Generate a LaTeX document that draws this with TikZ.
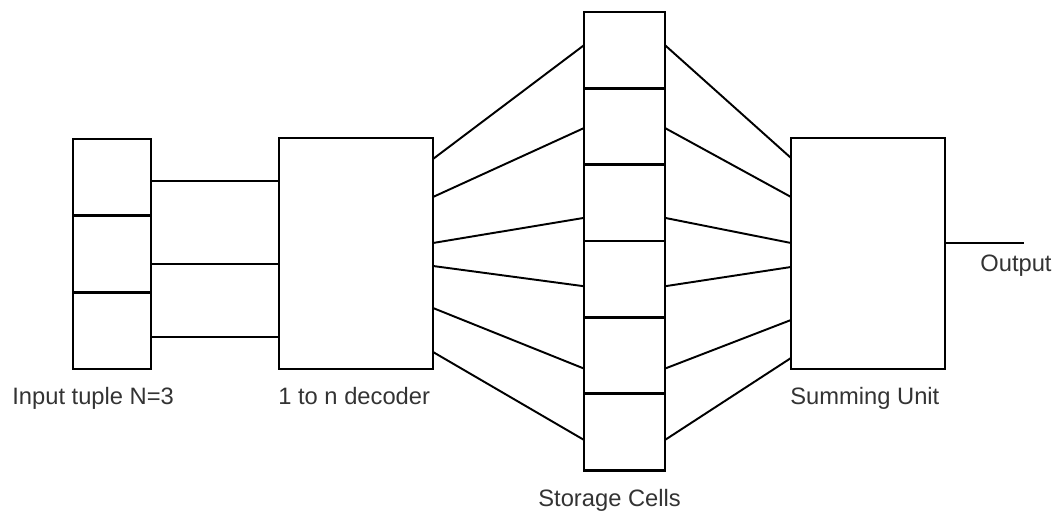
\documentclass[tikz,border=0pt]{standalone}
\usepackage{fontspec}
\setmainfont{Liberation Sans}
\usetikzlibrary{positioning}

\begin{document}
\begin{tikzpicture}[
    every node/.style={font=\fontsize{13.5}{16}\selectfont, text=black!80},
    unitbox/.style={draw, line width=1.6pt, inner sep=0pt, outer sep=0pt},
    tuplecell/.style={unitbox, minimum width=1.56cm, minimum height=1.533cm},
    storecell/.style={unitbox, minimum width=1.62cm, minimum height=1.527cm},
    bigbox/.style={unitbox, minimum width=3.08cm, minimum height=4.62cm},
    wire/.style={line width=1.1pt},
    caption/.style={anchor=base west, inner sep=0pt}
  ]
  \useasboundingbox (0,0) rectangle (21.14,10.26);

  % Input tuple
  \node[tuplecell] (inp1) at (2.24,6.713) {};
  \node[tuplecell, below=0pt of inp1] (inp2) {};
  \node[tuplecell, below=0pt of inp2] (inp3) {};

  % Decoder
  \node[bigbox] (dec) at (7.12,5.19) {};

  % Storage cells
  \node[storecell] (cell1) at (12.49,9.256) {};
  \node[storecell, below=0pt of cell1] (cell2) {};
  \node[storecell, below=0pt of cell2] (cell3) {};
  \node[storecell, below=0pt of cell3] (cell4) {};
  \node[storecell, below=0pt of cell4] (cell5) {};
  \node[storecell, below=0pt of cell5] (cell6) {};

  % Summing unit
  \node[bigbox] (sum) at (17.36,5.19) {};

  % Tuple to decoder
  \draw[wire] ([yshift=-0.08cm]inp1.east) -- ([yshift=-0.08cm]inp1.east -| dec.west);
  \draw[wire] ([yshift=-0.2cm]inp2.east) -- ([yshift=-0.2cm]inp2.east -| dec.west);
  \draw[wire] ([yshift=-0.12cm]inp3.east) -- ([yshift=-0.12cm]inp3.east -| dec.west);

  % Decoder to storage
  \draw[wire] ([yshift=1.89cm]dec.east) -- ([yshift=0.1cm]cell1.west);
  \draw[wire] ([yshift=1.13cm]dec.east) -- ([yshift=-0.03cm]cell2.west);
  \draw[wire] ([yshift=0.21cm]dec.east) -- ([yshift=-0.3cm]cell3.west);
  \draw[wire] ([yshift=-0.25cm]dec.east) -- ([yshift=-0.14cm]cell4.west);
  \draw[wire] ([yshift=-1.09cm]dec.east) -- ([yshift=-0.26cm]cell5.west);
  \draw[wire] ([yshift=-1.97cm]dec.east) -- ([yshift=-0.16cm]cell6.west);

  % Storage to summing unit
  \draw[wire] ([yshift=0.1cm]cell1.east) -- ([yshift=1.91cm]sum.west);
  \draw[wire] ([yshift=-0.03cm]cell2.east) -- ([yshift=1.13cm]sum.west);
  \draw[wire] ([yshift=-0.3cm]cell3.east) -- ([yshift=0.21cm]sum.west);
  \draw[wire] ([yshift=-0.14cm]cell4.east) -- ([yshift=-0.27cm]sum.west);
  \draw[wire] ([yshift=-0.26cm]cell5.east) -- ([yshift=-1.33cm]sum.west);
  \draw[wire] ([yshift=-0.16cm]cell6.east) -- ([yshift=-2.09cm]sum.west);

  % Output
  \draw[line width=1.6pt] ([yshift=0.21cm]sum.east) -- ++(1.58,0) coordinate (out);

  % Labels
  \node[caption] (inplabel) at (0.24,2.16) {Input tuple N=3};
  \node[caption] (declabel) at (5.56,2.16) {1 to n decoder};
  \node[caption] (cellabel) at (10.76,0.12) {Storage Cells};
  \node[caption] (sumlabel) at (15.8,2.16) {Summing Unit};
  \node[caption] (outlabel) at (19.6,4.82) {Output};
\end{tikzpicture}
\end{document}
